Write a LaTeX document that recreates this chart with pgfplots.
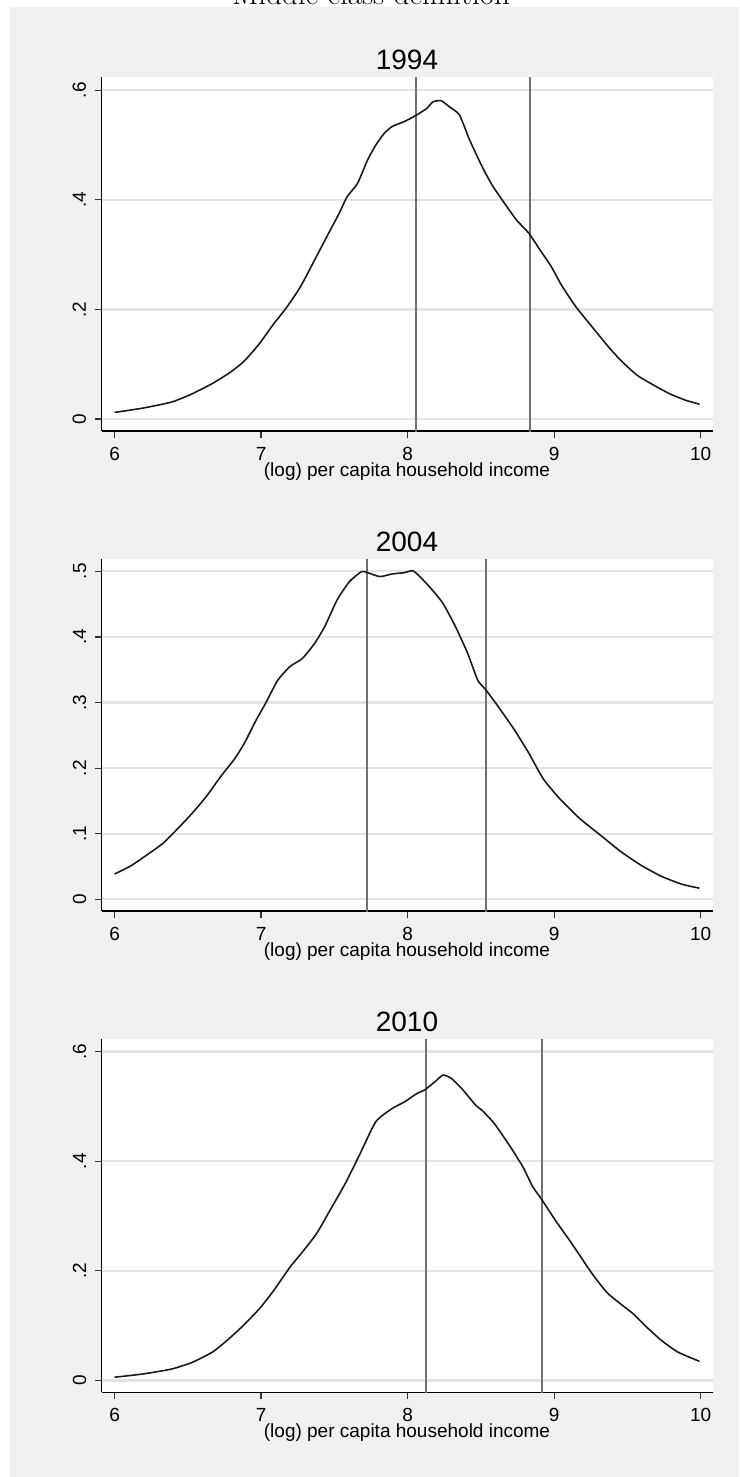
\documentclass[border=0pt]{standalone}
\usepackage{pgfplots}
\pgfplotsset{compat=1.18}
\usepackage{fontspec}
\setsansfont{Liberation Sans}
\definecolor{bgc}{HTML}{F0F0F0}
\definecolor{gridc}{HTML}{E3E3E3}
\definecolor{vlinec}{HTML}{707070}
\definecolor{curvec}{HTML}{1A1A1A}

\pgfplotstableread{
x y
6.000 0.012
6.195 0.020
6.390 0.031
6.530 0.046
6.669 0.065
6.794 0.086
6.890 0.107
6.990 0.138
7.087 0.174
7.170 0.202
7.268 0.241
7.365 0.290
7.449 0.333
7.532 0.375
7.588 0.406
7.658 0.430
7.727 0.473
7.783 0.500
7.839 0.521
7.895 0.534
7.978 0.543
8.062 0.555
8.131 0.567
8.173 0.579
8.229 0.581
8.285 0.570
8.354 0.555
8.424 0.509
8.508 0.461
8.577 0.427
8.661 0.394
8.744 0.363
8.828 0.339
8.898 0.311
8.981 0.278
9.051 0.244
9.148 0.205
9.260 0.168
9.370 0.132
9.455 0.107
9.566 0.080
9.678 0.062
9.789 0.046
9.900 0.034
9.993 0.027
}\dataA

\pgfplotstableread{
x y
6.000 0.0386
6.111 0.051
6.223 0.068
6.334 0.086
6.432 0.108
6.529 0.131
6.627 0.157
6.724 0.187
6.822 0.215
6.891 0.240
6.961 0.271
7.031 0.299
7.114 0.334
7.198 0.355
7.281 0.367
7.365 0.390
7.435 0.416
7.518 0.456
7.602 0.484
7.685 0.4995
7.727 0.498
7.811 0.492
7.894 0.496
7.978 0.498
8.033 0.501
8.075 0.494
8.159 0.474
8.242 0.451
8.326 0.416
8.410 0.375
8.479 0.334
8.535 0.319
8.618 0.294
8.730 0.258
8.827 0.223
8.925 0.184
9.036 0.154
9.176 0.123
9.315 0.098
9.454 0.073
9.593 0.052
9.733 0.035
9.872 0.023
9.992 0.017
}\dataB

\pgfplotstableread{
x y
6.000 0.006
6.195 0.012
6.390 0.021
6.529 0.033
6.669 0.052
6.780 0.076
6.877 0.100
6.989 0.131
7.086 0.164
7.198 0.207
7.281 0.234
7.379 0.268
7.476 0.313
7.574 0.359
7.671 0.411
7.783 0.472
7.894 0.496
7.978 0.508
8.061 0.523
8.117 0.530
8.187 0.545
8.242 0.557
8.298 0.551
8.368 0.533
8.465 0.502
8.507 0.493
8.591 0.469
8.702 0.426
8.786 0.390
8.855 0.353
8.911 0.332
9.009 0.292
9.120 0.250
9.259 0.195
9.370 0.158
9.538 0.122
9.621 0.100
9.733 0.073
9.844 0.052
9.992 0.035
}\dataC

\pgfplotsset{
  stata/.style={
    scale only axis,
    width=305.5pt,
    anchor=south west,
    axis background/.style={fill=white},
    axis x line*=bottom,
    axis y line*=left,
    axis line style={black, line width=0.6pt, -},
    xmin=5.911, xmax=10.081,
    xtick={6,7,8,9,10},
    xticklabels={6,7,8,9,10},
    tick align=outside,
    major tick length=3.5pt,
    tick style={black!80, line width=0.6pt},
    ymajorgrids,
    grid style={gridc, line width=1.1pt},
    tick label style={font=\fontsize{9.5}{11}\selectfont\sffamily},
    xticklabel style={anchor=base, inner sep=0pt, yshift=-11pt},
    yticklabel style={rotate=90, anchor=base, inner sep=0pt, yshift=4.25pt},
    xlabel={(log) per capita household income},
    xlabel style={font=\fontsize{9.5}{11}\selectfont\sffamily, at={(axis description cs:0.5,0)}, anchor=base, inner sep=0pt, yshift=-22.75pt},
    title style={font=\fontsize{14}{16}\selectfont\sffamily, at={(axis description cs:0.5,1)}, anchor=base, inner sep=0pt, yshift=-2.25pt},
  },
  curve/.style={curvec, line width=0.8pt, smooth, tension=0.35},
  vline/.style={vlinec, line width=1pt},
}

\begin{document}
\begin{tikzpicture}
\useasboundingbox (0pt,0pt) rectangle (369.5pt,-738.5pt);
\fill[bgc] (5pt,-3.5pt) rectangle (369.5pt,-738.5pt);
\node[font=\fontsize{15.5}{18}\selectfont, anchor=base, inner sep=0pt] at (185.5pt,-2.25pt) {Middle class definition};

% Panel 1994
\begin{axis}[stata, at={(50.75pt,-215.5pt)}, height=176.75pt,
  ymin=-0.0219, ymax=0.6234,
  ytick={0,0.2,0.4,0.6}, yticklabels={0,.2,.4,.6},
  title={1994}]
\addplot[vline] coordinates {(8.055,-0.1) (8.055,0.7)};
\addplot[vline] coordinates {(8.838,-0.1) (8.838,0.7)};
\addplot[curve] table[x=x,y=y] {\dataA};
\end{axis}

% Panel 2004
\begin{axis}[stata, at={(50.75pt,-455.5pt)}, height=176pt,
  ymin=-0.0178, ymax=0.5188,
  ytick={0,0.1,0.2,0.3,0.4,0.5}, yticklabels={0,.1,.2,.3,.4,.5},
  title={2004}]
\addplot[vline] coordinates {(7.721,-0.1) (7.721,0.6)};
\addplot[vline] coordinates {(8.537,-0.1) (8.537,0.6)};
\addplot[curve] table[x=x,y=y] {\dataB};
\end{axis}

% Panel 2010
\begin{axis}[stata, at={(50.75pt,-696.15pt)}, height=176.65pt,
  ymin=-0.0215, ymax=0.6228,
  ytick={0,0.2,0.4,0.6}, yticklabels={0,.2,.4,.6},
  title={2010}]
\addplot[vline] coordinates {(8.128,-0.1) (8.128,0.7)};
\addplot[vline] coordinates {(8.917,-0.1) (8.917,0.7)};
\addplot[curve] table[x=x,y=y] {\dataC};
\end{axis}
\end{tikzpicture}
\end{document}
